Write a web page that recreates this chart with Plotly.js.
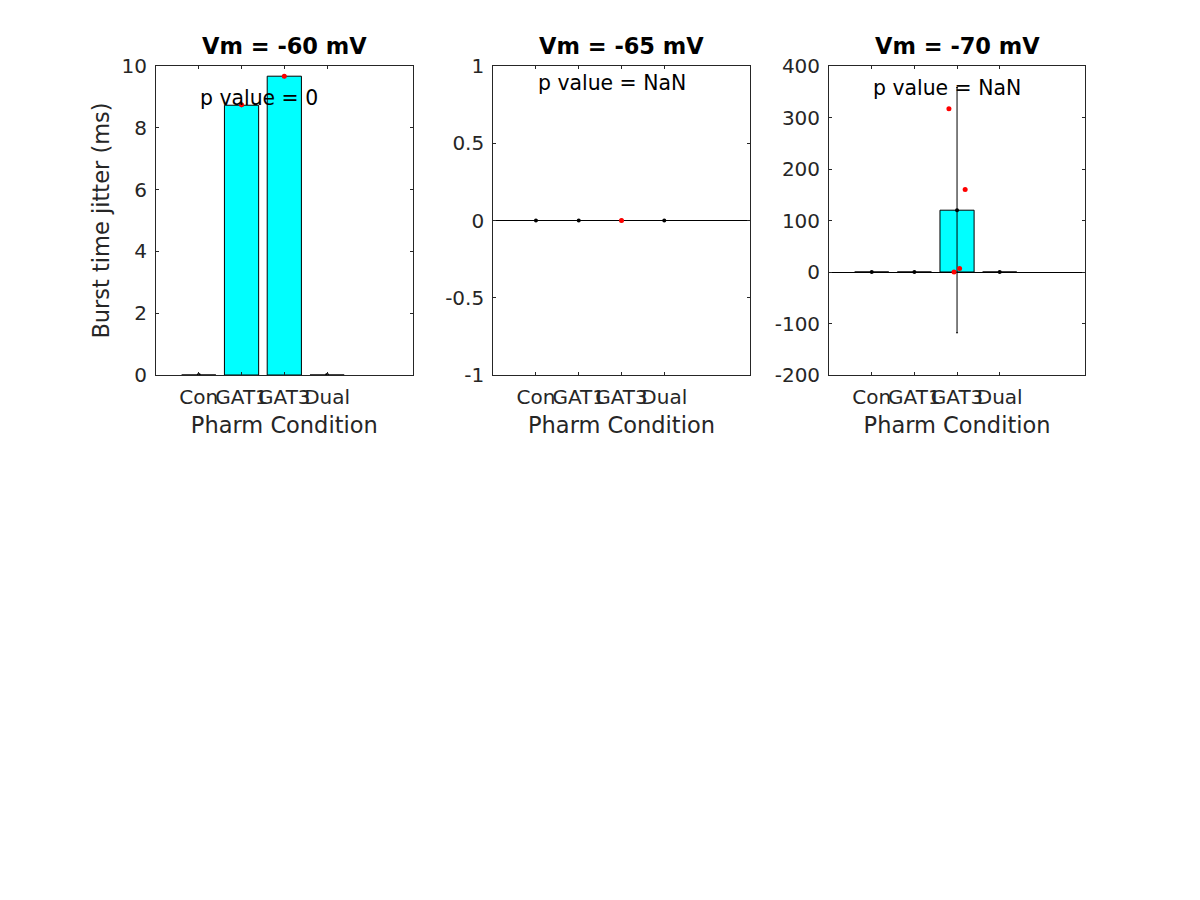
<!DOCTYPE html>
<html>
<head>
<meta charset="utf-8">
<script src="https://cdn.plot.ly/plotly-3.0.1.min.js"></script>
<style>html,body{margin:0;padding:0;background:#fff;}#chart{width:1200px;height:900px;}</style>
</head>
<body>
<div id="chart"></div>
<script>
// ---- data ----
const categories = ['Con', 'GAT1', 'GAT3', 'Dual'];
const catPos = [1, 2, 3, 4];
const panelTitles = ['Vm = -60 mV', 'Vm = -65 mV', 'Vm = -70 mV'];
const pValueTexts = ['p value = 0', 'p value = NaN', 'p value = NaN'];

const means60 = [0, 8.73, 9.67, 0];
const means65 = [0, 0, 0, 0];
const means70 = [0, 0, 120, 0];
const err60 = [0, 0, 0, 0];
const err65 = [0, 0, 0, 0];
const err70 = [0, 0, 238, 0];

const pts60x = [2, 3];
const pts60y = [8.75, 9.67];
const pts65x = [3];
const pts65y = [0];
const pts70x = [2.81, 3.19, 2.93, 3.06];
const pts70y = [317, 160, 0, 7];

const yRanges = [[0, 10], [-1, 1], [-200, 400]];
const yTicks60 = [0, 2, 4, 6, 8, 10];
const yTickText60 = ['0', '2', '4', '6', '8', '10'];
const yTicks65 = [-1, -0.5, 0, 0.5, 1];
const yTickText65 = ['-1', '-0.5', '0', '0.5', '1'];
const yTicks70 = [-200, -100, 0, 100, 200, 300, 400];
const yTickText70 = ['-200', '-100', '0', '100', '200', '300', '400'];
const pTextPos = [[2.41, 8.96], [2.77, 0.893], [2.775, 357]];

// ---- build ----
const FONT = 'DejaVu Sans, sans-serif';
const AXC = '#262626';
const means = [means60, means65, means70];
const errs = [err60, err65, err70];
const ptsX = [pts60x, pts65x, pts70x];
const ptsY = [pts60y, pts65y, pts70y];
const yTicks = [yTicks60, yTicks65, yTicks70];
const yTickTexts = [yTickText60, yTickText65, yTickText70];

const traces = [];
for (let i = 0; i < 3; i++) {
  const xa = i === 0 ? 'x' : 'x' + (i + 1);
  const ya = i === 0 ? 'y' : 'y' + (i + 1);
  traces.push({
    type: 'bar', x: catPos, y: means[i], xaxis: xa, yaxis: ya, width: 0.8,
    marker: {color: '#00ffff', line: {color: '#000000', width: 1}},
    hoverinfo: 'y', showlegend: false
  });
  traces.push({
    type: 'scatter', mode: 'markers', x: catPos, y: means[i], xaxis: xa, yaxis: ya,
    marker: {color: '#000000', size: 4},
    error_y: {type: 'data', array: errs[i], visible: true, color: '#000000', thickness: 1, width: 1},
    showlegend: false
  });
  traces.push({
    type: 'scatter', mode: 'markers', x: ptsX[i], y: ptsY[i], xaxis: xa, yaxis: ya,
    marker: {color: '#ff0000', size: 5},
    showlegend: false
  });
}

const L = 156, R = 1085.3, T = 66, B = 375;
const W = R - L;
const domains = [[156, 412.7], [493.3, 750], [829.3, 1085.3]].map(d => [(d[0] - L) / W, (d[1] - L) / W]);

const layout = {
  width: 1200, height: 900,
  margin: {l: L, r: 1200 - R, t: T, b: 900 - B},
  paper_bgcolor: '#ffffff', plot_bgcolor: '#ffffff',
  font: {family: FONT, color: AXC, size: 20},
  showlegend: false,
  bargap: 0,
  annotations: []
};

for (let i = 0; i < 3; i++) {
  const sx = i === 0 ? '' : String(i + 1);
  layout['xaxis' + sx] = {
    domain: domains[i], range: [0, 6], anchor: 'y' + sx,
    tickvals: catPos, ticktext: categories, tickangle: 0,
    ticks: 'inside', ticklen: 3, tickcolor: AXC, mirror: 'ticks',
    showline: true, linecolor: AXC, linewidth: 1, showgrid: false, zeroline: false,
    tickfont: {family: FONT, size: 20, color: AXC},
    ticklabelstandoff: 4,
    title: {text: 'Pharm Condition', font: {family: FONT, size: 22.5, color: AXC}, standoff: 9},
    fixedrange: true
  };
  layout['yaxis' + sx] = {
    domain: [0, 1], range: yRanges[i], anchor: 'x' + sx,
    tickvals: yTicks[i], ticktext: yTickTexts[i],
    ticks: 'inside', ticklen: 3, tickcolor: AXC, mirror: 'ticks',
    showline: true, linecolor: AXC, linewidth: 1, showgrid: false,
    zeroline: i > 0, zerolinecolor: '#000000', zerolinewidth: 1,
    tickfont: {family: FONT, size: 20, color: AXC},
    ticklabelstandoff: 4,
    fixedrange: true
  };
  if (i === 0) {
    layout.yaxis.title = {text: 'Burst time jitter (ms)', font: {family: FONT, size: 22.5, color: AXC}, standoff: 5};
  }
  layout.annotations.push({
    text: '<b>' + panelTitles[i] + '</b>', xref: 'x' + sx + ' domain', yref: 'y' + sx + ' domain',
    x: 0.5, y: 1, xanchor: 'center', yanchor: 'bottom', yshift: 5, showarrow: false,
    font: {family: FONT, size: 22.5, color: '#000000'}
  });
  layout.annotations.push({
    text: pValueTexts[i], xref: 'x' + sx, yref: 'y' + sx,
    x: pTextPos[i][0], y: pTextPos[i][1], xanchor: 'center', yanchor: 'middle', showarrow: false,
    font: {family: FONT, size: 20.4, color: '#000000'}
  });
}

Plotly.newPlot('chart', traces, layout, {displayModeBar: false, staticPlot: true});
</script>
</body>
</html>
